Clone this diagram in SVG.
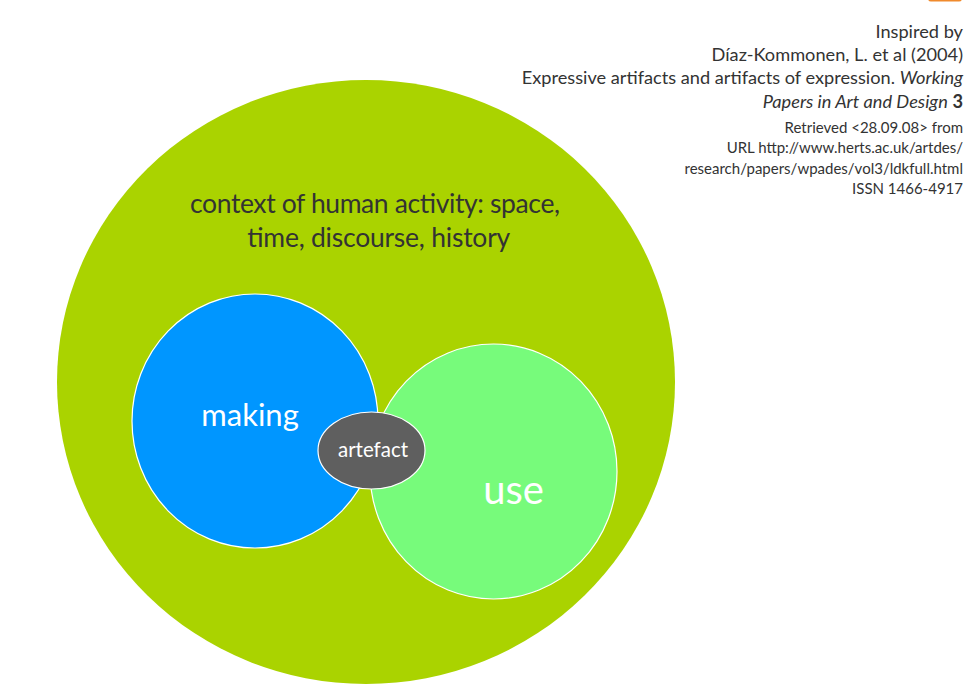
<svg xmlns="http://www.w3.org/2000/svg" width="975" height="696" viewBox="0 0 975 696">
<style>
.ref{font-family:Lato,"Open Sans","Liberation Sans",sans-serif;fill:#333;text-anchor:end}
.big{font-size:18.2px}
.small{font-size:15px}
.ctx{font-family:Lato,"Open Sans","Liberation Sans",sans-serif;fill:#333;font-size:26.5px}
.lbl{font-family:Lato,"Open Sans","Liberation Sans",sans-serif;fill:#fff;text-anchor:middle}
.node{stroke:#fff;stroke-width:1.2}
</style>
<rect width="975" height="696" fill="#fff"/>
<rect x="928" y="-6" width="34" height="7.5" rx="3" fill="#f08a2c"/>
<g id="context">
<ellipse cx="366" cy="382" rx="309" ry="302" fill="#aad300"/>
<text class="ctx" x="190" y="213" textLength="370" lengthAdjust="spacing">context of human activity: space,</text>
<text class="ctx" x="247" y="247" textLength="263" lengthAdjust="spacing">time, discourse, history</text>
</g>
<g id="making">
<ellipse class="node" cx="255" cy="421" rx="123" ry="127" fill="#0096ff"/>
<text class="lbl" x="250" y="426" font-size="31">making</text>
</g>
<g id="use">
<ellipse class="node" cx="493.5" cy="471.5" rx="123.5" ry="127.5" fill="#77fb7b"/>
<text class="lbl" x="513.5" y="504" font-size="40">use</text>
</g>
<g id="artefact">
<ellipse class="node" cx="371.5" cy="450.5" rx="53.5" ry="38.5" fill="#5f5f5f"/>
<text class="lbl" x="373" y="457" font-size="20.5">artefact</text>
</g>
<g id="reference">
<text class="ref big" x="963" y="38">Inspired by</text>
<text class="ref big" x="963" y="61">Díaz-Kommonen, L. et al (2004)</text>
<text class="ref big" x="963" y="84">Expressive artifacts and artifacts of expression. <tspan font-style="italic">Working</tspan></text>
<text class="ref big" x="963" y="108"><tspan font-style="italic">Papers in Art and Design</tspan> <tspan font-weight="bold">3</tspan></text>
<text class="ref small" x="963" y="133">Retrieved &lt;28.09.08&gt; from</text>
<text class="ref small" x="963" y="153">URL http://www.herts.ac.uk/artdes/</text>
<text class="ref small" x="963" y="174">research/papers/wpades/vol3/ldkfull.html</text>
<text class="ref small" x="963" y="194">ISSN 1466-4917</text>
</g>
</svg>
